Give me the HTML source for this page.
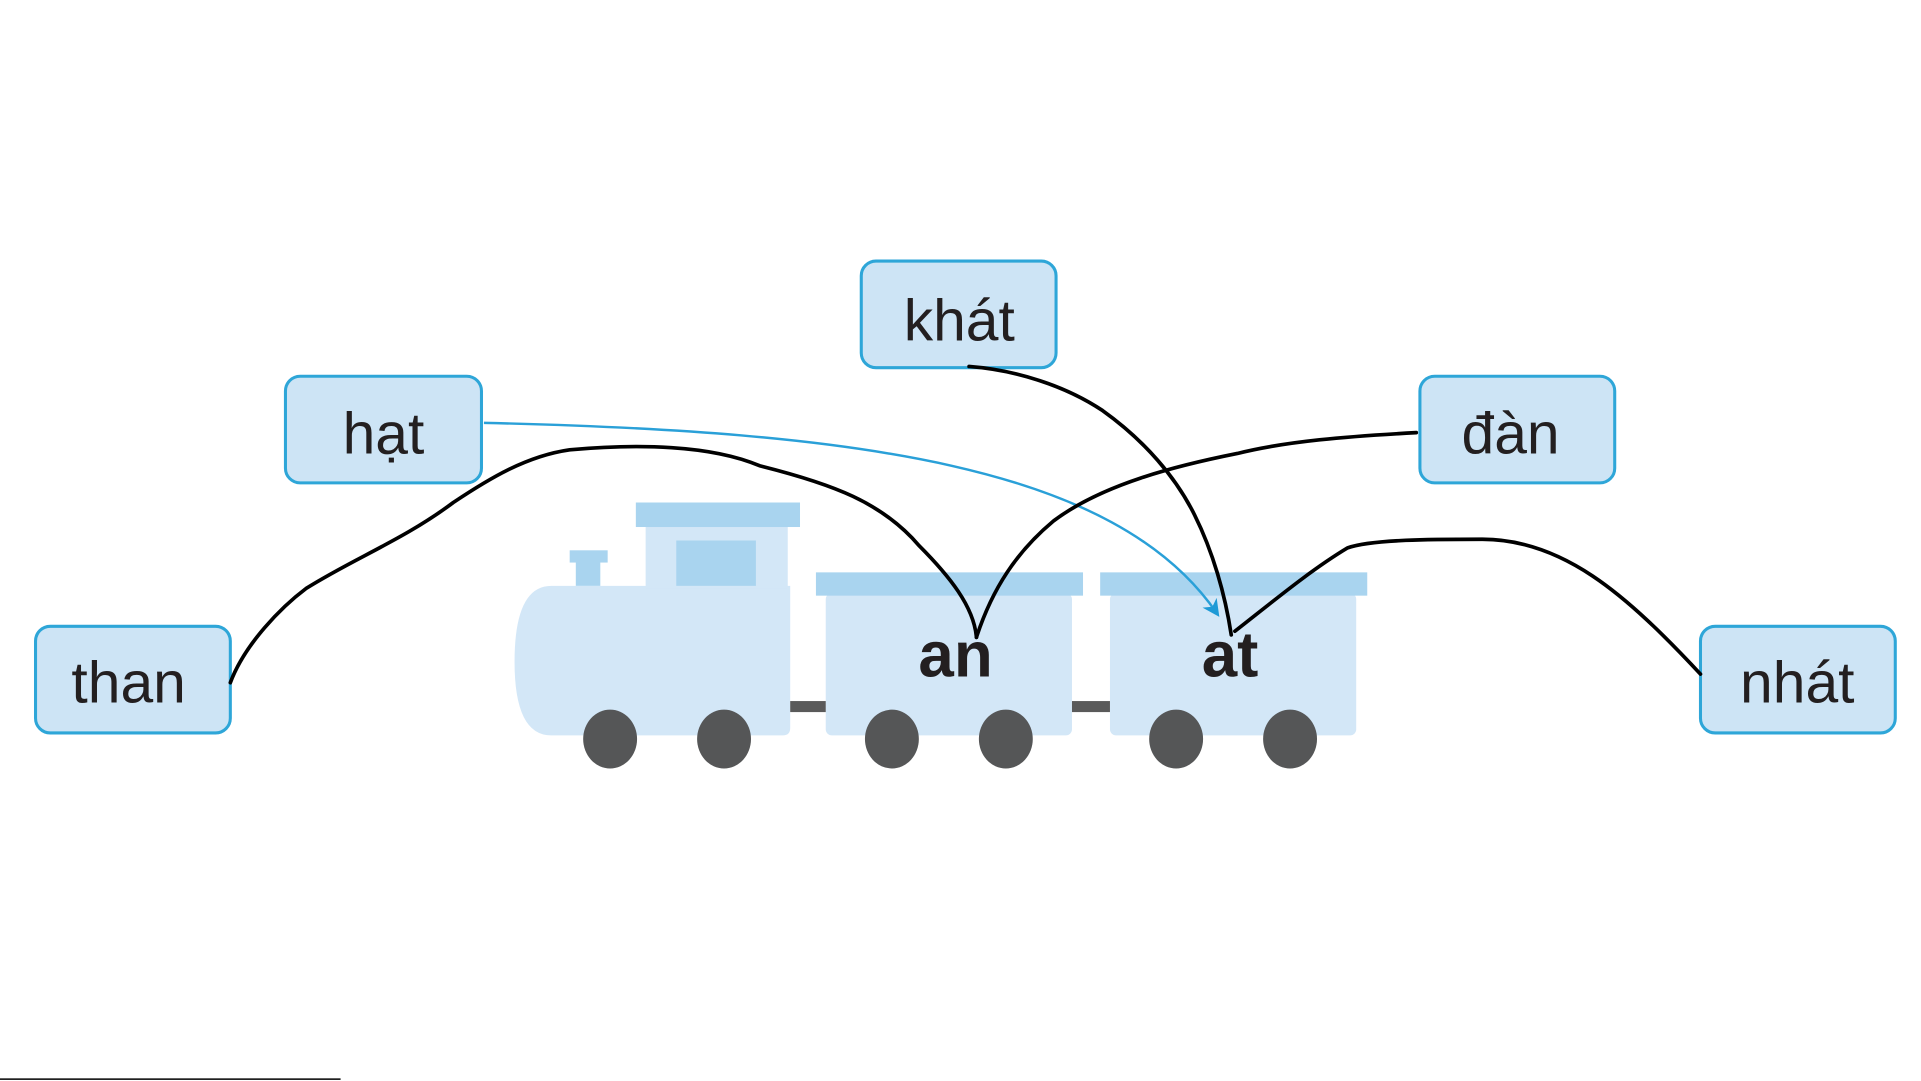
<!DOCTYPE html>
<html><head><meta charset="utf-8"><style>
html,body{margin:0;padding:0;background:#fff;}
svg{display:block;}
text{font-family:"Liberation Sans","DejaVu Sans",sans-serif;}
</style></head><body>
<svg width="1921" height="1081" viewBox="0 0 1568 882" preserveAspectRatio="none">
<defs>
<marker id="ah" markerWidth="14" markerHeight="14" refX="10" refY="7" orient="auto" markerUnits="userSpaceOnUse">
<path d="M0,0 L14,7 L0,14 L4,7 Z" fill="#1e9ad6"/></marker>
</defs>
<!-- train -->
<g fill="#d3e7f7">
<path d="M450,478 H645 V594 Q645,600 639,600 H450 Q420,600 420,540 Q420,478 450,478 Z"/>
<rect x="527" y="428" width="116" height="52"/>
<rect x="674" y="484" width="201" height="116" rx="5"/>
<rect x="906" y="484" width="201" height="116" rx="5"/>
</g>
<g fill="#a9d4ef">
<rect x="519" y="410" width="134" height="20"/>
<rect x="552" y="441" width="65" height="37"/>
<rect x="470" y="458" width="20" height="20"/>
<rect x="465" y="449" width="31" height="10"/>
<rect x="666" y="467" width="218" height="19"/>
<rect x="898" y="467" width="218" height="19"/>
</g>
<rect x="645" y="572" width="29" height="9" fill="#5a5a5a"/>
<rect x="875" y="572" width="31" height="9" fill="#5a5a5a"/>
<g fill="#555657">
<ellipse cx="498" cy="603" rx="22" ry="24"/><ellipse cx="591" cy="603" rx="22" ry="24"/>
<ellipse cx="728" cy="603" rx="22" ry="24"/><ellipse cx="821" cy="603" rx="22" ry="24"/>
<ellipse cx="960" cy="603" rx="22" ry="24"/><ellipse cx="1053" cy="603" rx="22" ry="24"/>
</g>
<text x="780" y="552" font-size="52" font-weight="bold" text-anchor="middle" fill="#231f20">an</text>
<text x="1004" y="552" font-size="52" font-weight="bold" text-anchor="middle" fill="#231f20">at</text>
<!-- boxes -->
<g fill="#cde4f5" stroke="#2ea6d8" stroke-width="2.5">
<rect x="703" y="213" width="159" height="87" rx="12"/>
<rect x="233" y="307" width="160" height="87" rx="12"/>
<rect x="1159" y="307" width="159" height="87" rx="12"/>
<rect x="29" y="511" width="159" height="87" rx="12"/>
<rect x="1388" y="511" width="159" height="87" rx="12"/>
</g>
<g font-size="48" fill="#231f20" text-anchor="middle">
<text x="783" y="278">khát</text>
<text x="313" y="370">hạt</text>
<text x="1233" y="370">đàn</text>
<text x="105" y="573">than</text>
<text x="1467" y="573">nhát</text>
</g>
<!-- blue arrow -->
<path d="M395,345 C700,352 910,380 993,500" fill="none" stroke="#2aa0d8" stroke-width="2" marker-end="url(#ah)"/>
<!-- black hand-drawn lines -->
<g fill="none" stroke="#000" stroke-width="3" stroke-linejoin="round" stroke-linecap="round">
<path d="M188,557 C200,525 230,495 250,480 C290,455 330,440 370,410 C400,390 430,372 465,367 C520,362 580,363 620,380 C680,395 720,410 750,445 C775,470 795,495 797,520"/>
<path d="M791,299 C830,302 870,315 900,335 C935,360 960,390 975,420 C990,450 1000,485 1005,518"/>
<path d="M1156,353 C1100,356 1050,360 1010,370 C960,380 900,395 860,425 C830,450 810,480 797,520"/>
<path d="M1388,550 C1360,520 1330,490 1300,470 C1270,450 1240,440 1210,440 C1170,440 1120,440 1100,447 C1070,465 1040,490 1008,515"/>
</g>
<line x1="0" y1="880.5" x2="278" y2="880.5" stroke="#000" stroke-width="1.2"/>
</svg>
</body></html>
